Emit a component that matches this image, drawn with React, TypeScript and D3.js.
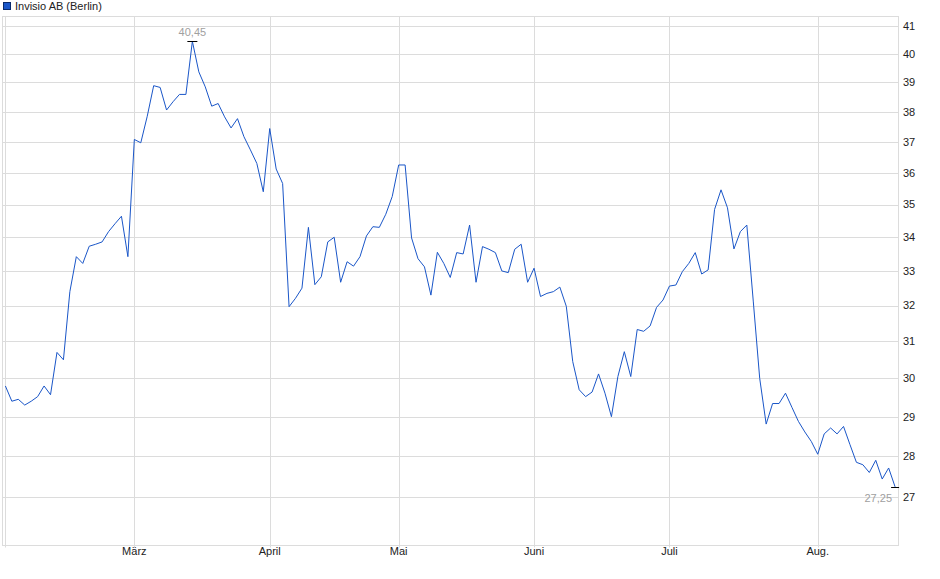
import React from "react";
import * as d3 from "d3";

const seriesName = "Invisio AB (Berlin)";
const prices: number[] = [
  29.8, 29.4, 29.45, 29.3, 29.4, 29.52, 29.8, 29.57, 30.7, 30.5,
  32.4, 33.42, 33.22, 33.73, 33.79, 33.86, 34.17, 34.41, 34.64, 33.42,
  37.08, 36.97, 37.85, 38.89, 38.83, 38.06, 38.34, 38.59, 38.59, 40.45,
  39.37, 38.85, 38.19, 38.28, 37.83, 37.46, 37.77, 37.17, 36.74, 36.3,
  35.4, 37.44, 36.12, 35.66, 31.97, 32.21, 32.5, 34.3, 32.6, 32.83,
  33.86, 34.0, 32.67, 33.27, 33.14, 33.42, 34.04, 34.32, 34.3, 34.7,
  35.25, 36.25, 36.25, 33.98, 33.36, 33.12, 32.3, 33.55, 33.22, 32.81,
  33.54, 33.5, 34.37, 32.67, 33.72, 33.64, 33.54, 33.0, 32.95, 33.64,
  33.79, 32.67, 33.08, 32.26, 32.35, 32.4, 32.53, 31.98, 30.45, 29.7,
  29.52, 29.64, 30.12, 29.61, 29.0, 30.05, 30.72, 30.05, 31.33, 31.28,
  31.43, 31.95, 32.16, 32.56, 32.59, 32.98, 33.22, 33.54, 32.91, 33.03,
  34.85, 35.46, 34.9, 33.65, 34.17, 34.37, 32.13, 30.0, 28.81, 29.34,
  29.34, 29.61, 29.24, 28.88, 28.61, 28.37, 28.05, 28.56, 28.71, 28.56,
  28.75, 28.29, 27.85, 27.79, 27.6, 27.9, 27.44, 27.71, 27.25,
];
const monthTickIndex: number[] = [0, 20, 41, 61, 82, 103, 126];
const monthTickLabels: string[] = ["", "März", "April", "Mai", "Juni", "Juli", "Aug."];
const yTickValues: number[] = [27, 28, 29, 30, 31, 32, 33, 34, 35, 36, 37, 38, 39, 40, 41];

const W = 940;
const H = 579;
const left = 2.5, right = 898.5, top = 16.5, bottom = 545.5;
const FONT = "'Liberation Sans', Arial, sans-serif";
const LINE = "#1a56c8";
const GRID = "#dcdcdc";

const fmt = (v: number) => v.toFixed(2).replace(".", ",");

export default function App() {
  const x = d3.scaleLinear().domain([0, prices.length - 1]).range([5.4, 895.1]);
  const y = d3.scaleLog().domain([25.87, 41.35]).range([bottom, top]);
  const line = d3
    .line<number>()
    .x((_, i) => x(i))
    .y((d) => y(d));

  const maxIdx = d3.maxIndex(prices);
  const lastIdx = prices.length - 1;
  const px = (v: number) => Math.round(v) + 0.5;

  return (
    <svg
      width={W}
      height={H}
      style={{ position: "absolute", left: 0, top: 0, background: "#fff" }}
      fontFamily={FONT}
    >
      {/* legend */}
      <rect x={3.5} y={2.5} width={7} height={7} fill={LINE} stroke="#0a2a6a" strokeWidth={1} />
      <text x={15} y={10} fontSize={11} fill="#222">
        {seriesName}
      </text>

      {/* horizontal grid */}
      {yTickValues.map((v) => (
        <line key={"h" + v} x1={left} x2={right} y1={px(y(v))} y2={px(y(v))} stroke={GRID} strokeWidth={1} />
      ))}
      {/* vertical grid */}
      {monthTickIndex.map((i) => (
        <line key={"v" + i} x1={px(x(i))} x2={px(x(i))} y1={top} y2={bottom + 2} stroke={GRID} strokeWidth={1} />
      ))}
      {/* frame */}
      <rect x={left} y={top} width={right - left} height={bottom - top} fill="none" stroke={GRID} strokeWidth={1} />

      {/* y labels */}
      {yTickValues.map((v) => (
        <text key={"yl" + v} x={903} y={y(v)} dy="0.35em" fontSize={11} fill="#222">
          {v}
        </text>
      ))}
      {/* x labels */}
      {monthTickIndex.map((i, k) => (
        <text key={"xl" + i} x={x(i)} y={555} textAnchor="middle" fontSize={11} fill="#222">
          {monthTickLabels[k]}
        </text>
      ))}

      {/* series */}
      <path d={line(prices) || ""} fill="none" stroke={LINE} strokeWidth={1} />

      {/* max marker */}
      <line x1={x(maxIdx) - 5} x2={x(maxIdx) + 5} y1={px(y(prices[maxIdx]))} y2={px(y(prices[maxIdx]))} stroke="#000" strokeWidth={1} />
      <text x={x(maxIdx)} y={y(prices[maxIdx]) - 5} textAnchor="middle" fontSize={11} fill="#a0a0a0">
        {fmt(prices[maxIdx])}
      </text>
      {/* last marker */}
      <line x1={x(lastIdx) - 4} x2={x(lastIdx) + 4} y1={px(y(prices[lastIdx]))} y2={px(y(prices[lastIdx]))} stroke="#000" strokeWidth={1} />
      <text x={892} y={y(prices[lastIdx]) + 15} textAnchor="end" fontSize={11} fill="#a0a0a0">
        {fmt(prices[lastIdx])}
      </text>
    </svg>
  );
}
